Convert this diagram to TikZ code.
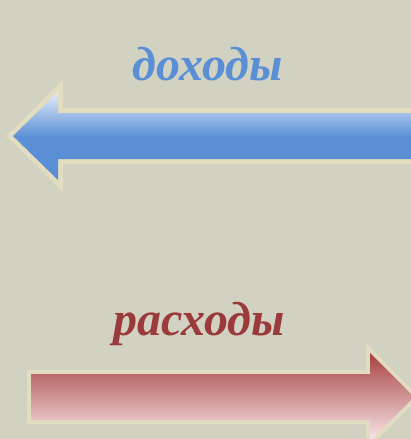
\documentclass[tikz,border=0pt]{standalone}
\usepackage{fontspec}
\setmainfont{Liberation Serif}
\definecolor{bg}{HTML}{D2D2C2}
\definecolor{rim}{HTML}{E2DCC0}
\definecolor{bluemain}{HTML}{5A8FD6}
\definecolor{bluelight}{HTML}{E6EEF9}
\definecolor{redtop}{HTML}{A64242}
\definecolor{redbot}{HTML}{FAE8EA}
\definecolor{redtext}{HTML}{9B3A3A}
\tikzset{
  rimline/.style={draw=rim, line width=10pt, miter limit=10, line join=miter},
  label/.style={inner sep=0pt, anchor=base, font=\fontsize{48}{48}\selectfont\bfseries\itshape},
}
\begin{document}
\begin{tikzpicture}[x=1pt,y=-1pt]
\fill[bg] (0,0) rectangle (411,439);
\useasboundingbox (0,0) rectangle (411,439);
% blue arrow (left)
\coordinate (btip) at (13,136);
\draw[rimline] (btip) -- (58,92) -- (58,113) -- (420,113) -- (420,159) -- (58,159) -- (58,180) -- cycle;
\begin{scope}
\clip (btip) -- (58,92) -- (58,113) -- (420,113) -- (420,159) -- (58,159) -- (58,180) -- cycle;
\shade[top color=bluelight, bottom color=bluemain] (0,91) rectangle (420,137);
\fill[bluemain] (0,136.5) rectangle (420,182);
\end{scope}
% red arrow (right)
\coordinate (rtip) at (414,397);
\draw[rimline, line width=8pt] (31,374) -- (370,374) -- (370,353) -- (rtip) -- (370,441) -- (370,420) -- (31,420) -- cycle;
\shade[top color=redtop, bottom color=redbot] (31,374) -- (370,374) -- (370,353) -- (rtip) -- (370,441) -- (370,420) -- (31,420) -- cycle;
% labels
\node[label, text=bluemain] (inc) at (207.5,80) {доходы};
\node[label, text=redtext] (exp) at (199,335) {расходы};
\end{tikzpicture}
\end{document}
